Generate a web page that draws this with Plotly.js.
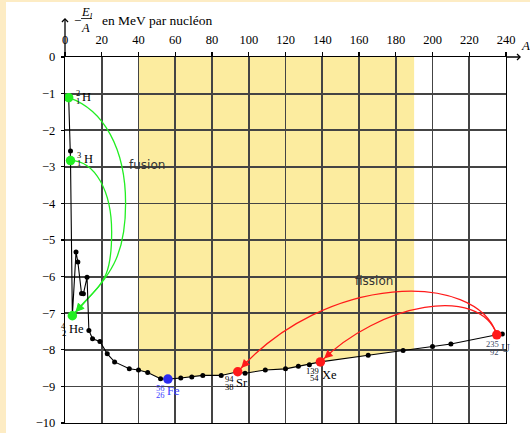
<!DOCTYPE html>
<html><head><meta charset="utf-8">
<script src="https://cdn.plot.ly/plotly-3.0.1.min.js"></script>
<style>
html,body{margin:0;padding:0;background:#fdecc4;width:530px;height:433px;overflow:hidden}
#chart{position:absolute;left:6px;top:2px;width:524px;height:431px;background:#fff}
</style></head><body><div id="chart"></div>
<script>
// ---- data ----
const massNumber = [2,3,3,4,6,7,9,10,12,13,15,19,23,27,35,40,45,52,56,63,69,75,85,94,98,109,120,127,133,139,165,184,200,210,235,238];
const bindingPerNucleon = [-1.11,-2.57,-2.83,-7.07,-5.33,-5.60,-6.46,-6.47,-6.02,-7.47,-7.70,-7.77,-8.11,-8.33,-8.52,-8.55,-8.62,-8.79,-8.80,-8.77,-8.74,-8.70,-8.70,-8.60,-8.64,-8.55,-8.52,-8.45,-8.41,-8.33,-8.15,-8.02,-7.91,-7.84,-7.59,-7.57];
const nuclideA = [2,3,4,56,94,139,235];
const nuclideZ = [1,1,2,26,38,54,92];
const nuclideSymbol = ['H','H','He','Fe','Sr','Xe','U'];
const nuclideE = [-1.11,-2.83,-7.07,-8.80,-8.60,-8.33,-7.59];
const xTicks = [0,20,40,60,80,100,120,140,160,180,200,220,240];
const yTicks = [0,-1,-2,-3,-4,-5,-6,-7,-8,-9,-10];
const bandRange = [40,190];
const fusionPairs = [[0,2],[1,2]];
const fissionPairs = [[6,4],[6,5]];

// ---- styles ----
const GREEN = '#22ee22', RED = '#ff1a1a', BLUE = '#2b2bf0';
const nuclideColor = [GREEN,GREEN,GREEN,BLUE,RED,RED,RED];
const labelColor = ['#000','#000','#000','#3d3dff','#000','#000','#3a4a66'];
// symbol left edge / centre offsets in px from the marker centre
const labelOffset = [[12.8,-0.9],[12.2,-1.7],[-4.6,13.5],[-1.9,12.3],[-2.7,11.2],[0.3,12.8],[3.2,13.3]];
// curve control points (geometry of the reaction arrows)
const fusionCtrl = [
  [[21.06,-1.437],[32.98,-2.50],[32.98,-4.0],[32.98,-5.64],[22.26,-6.06]],
  [[16.6,-2.83],[25.4,-3.69],[25.4,-4.78],[25.4,-6.28],[18.2,-6.18]]
];
const fissionCtrl = [
  [[224.1,-5.844],[141.5,-5.885]],
  [[225.9,-6.226],[171.4,-6.717]]
];
const SERIF = 'Liberation Serif, Times New Roman, serif';

function curveAt(a){
  for(let i=0;i<massNumber.length-1;i++){
    const a0=massNumber[i], a1=massNumber[i+1];
    if(a0<=a && a<=a1 && a1>a0){
      const t=(a-a0)/(a1-a0);
      return bindingPerNucleon[i]+t*(bindingPerNucleon[i+1]-bindingPerNucleon[i]);
    }
  }
  return bindingPerNucleon[bindingPerNucleon.length-1];
}
function bez(p0,p1,p2,p3,t){
  const u=1-t;
  return [u*u*u*p0[0]+3*u*u*t*p1[0]+3*u*t*t*p2[0]+t*t*t*p3[0],
          u*u*u*p0[1]+3*u*u*t*p1[1]+3*u*t*t*p2[1]+t*t*t*p3[1]];
}

const shapes = [];
const annotations = [];

// yellow band below the curve
{
  const pts = [[bandRange[0],0],[bandRange[0],curveAt(bandRange[0])]];
  massNumber.forEach((a,i)=>{ if(a>bandRange[0] && a<bandRange[1]) pts.push([a,bindingPerNucleon[i]]); });
  pts.push([bandRange[1],curveAt(bandRange[1])],[bandRange[1],0]);
  shapes.push({type:'path', xref:'x', yref:'y', layer:'below',
    path:'M'+pts.map(p=>p[0]+','+p[1]).join(' L')+' Z',
    fillcolor:'#fcec9f', line:{width:0}});
}

function reaction(pair, ctrl, color, tailT){
  const p0=[nuclideA[pair[0]],nuclideE[pair[0]]];
  const p3=[nuclideA[pair[1]],nuclideE[pair[1]]];
  let path='M'+p0.join(',');
  let lastSeg;
  if(ctrl.length===2){
    path+=' C'+ctrl[0].join(',')+' '+ctrl[1].join(',')+' '+p3.join(',');
    lastSeg=[p0,ctrl[0],ctrl[1],p3];
  } else {
    path+=' C'+ctrl[0].join(',')+' '+ctrl[1].join(',')+' '+ctrl[2].join(',');
    path+=' C'+ctrl[3].join(',')+' '+ctrl[4].join(',')+' '+p3.join(',');
    lastSeg=[ctrl[2],ctrl[3],ctrl[4],p3];
  }
  shapes.push({type:'path', xref:'x', yref:'y', layer:'between', path,
    line:{color, width:1.3}});
  const tail=bez(lastSeg[0],lastSeg[1],lastSeg[2],lastSeg[3],tailT);
  annotations.push({x:p3[0], y:p3[1], xref:'x', yref:'y', axref:'x', ayref:'y',
    ax:tail[0], ay:tail[1], text:'', showarrow:true, arrowhead:2, arrowsize:1.3,
    arrowwidth:1.3, arrowcolor:color, standoff:5});
}
reaction(fusionPairs[0], fusionCtrl[0], GREEN, 0.89);
reaction(fusionPairs[1], fusionCtrl[1], GREEN, 0.87);
reaction(fissionPairs[0], fissionCtrl[0], RED, 0.96);
reaction(fissionPairs[1], fissionCtrl[1], RED, 0.935);

// nuclide labels
nuclideA.forEach((a,i)=>{
  const [dx,dy]=labelOffset[i];
  const c=labelColor[i];
  annotations.push({x:a, y:nuclideE[i], xref:'x', yref:'y', showarrow:false,
    text:nuclideSymbol[i], xanchor:'left', yanchor:'middle', xshift:dx, yshift:-dy,
    borderpad:0, font:{family:SERIF, size:12.5, color:c}});
  annotations.push({x:a, y:nuclideE[i], xref:'x', yref:'y', showarrow:false,
    text:String(a), xanchor:'right', yanchor:'middle', xshift:dx-0.3, yshift:-(dy-3.6),
    borderpad:0, font:{family:SERIF, size:8.5, color:c}});
  annotations.push({x:a, y:nuclideE[i], xref:'x', yref:'y', showarrow:false,
    text:String(nuclideZ[i]), xanchor:'right', yanchor:'middle', xshift:dx-0.3, yshift:-(dy+3.8),
    borderpad:0, font:{family:SERIF, size:8.5, color:c}});
});

// fusion / fission words
annotations.push({x:44.5, y:-2.95, xref:'x', yref:'y', text:'fusion', showarrow:false,
  xanchor:'center', yanchor:'middle', font:{family:'DejaVu Sans', size:12, color:'#333'}});
annotations.push({x:168.3, y:-6.11, xref:'x', yref:'y', text:'fission', showarrow:false,
  xanchor:'center', yanchor:'middle', font:{family:'DejaVu Sans', size:12, color:'#333'}});

// axis arrows and titles
const PH = 366, PW = 441;
annotations.push({x:1+(521-506)/PW, y:0, xref:'paper', yref:'y', ax:-16, ay:0,
  text:'', showarrow:true, arrowhead:4, arrowsize:0.9, arrowwidth:1.3, arrowcolor:'#000'});
annotations.push({x:0, y:1+(57-18)/PH, xref:'x', yref:'paper', ax:0, ay:40,
  text:'', showarrow:true, arrowhead:4, arrowsize:0.9, arrowwidth:1.3, arrowcolor:'#000'});
annotations.push({x:1, y:1, xref:'paper', yref:'paper', xshift:19, yshift:12, showarrow:false,
  xanchor:'center', yanchor:'middle', borderpad:0,
  text:'<i>A</i>', font:{family:SERIF, size:13, color:'#000'}});
annotations.push({x:0, y:1, xref:'x', yref:'paper', xshift:12, yshift:37, showarrow:false,
  xanchor:'center', yanchor:'middle', borderpad:0,
  text:'−', font:{family:SERIF, size:13, color:'#000'}});
annotations.push({x:0, y:1, xref:'x', yref:'paper', xshift:21.5, yshift:44, showarrow:false,
  xanchor:'center', yanchor:'middle', borderpad:0,
  text:'<i>E<sub>l</sub></i>', font:{family:SERIF, size:12.5, color:'#000'}});
annotations.push({x:0, y:1, xref:'x', yref:'paper', xshift:20.5, yshift:29, showarrow:false,
  xanchor:'center', yanchor:'middle', borderpad:0,
  text:'<i>A</i>', font:{family:SERIF, size:12.5, color:'#000'}});
annotations.push({x:0, y:1, xref:'x', yref:'paper', xshift:36, yshift:37, showarrow:false,
  xanchor:'left', yanchor:'middle', borderpad:0,
  text:'en MeV par nucléon', font:{family:SERIF, size:13.5, color:'#000'}});
shapes.push({type:'line', xref:'paper', yref:'paper', x0:(81-65)/PW, x1:(92-65)/PW,
  y0:1+(57-18.5)/PH, y1:1+(57-18.5)/PH, line:{color:'#000', width:0.8}});

const traces = [
  {type:'scatter', mode:'lines+markers', x:massNumber, y:bindingPerNucleon,
   line:{color:'#000', width:1.1}, marker:{color:'#000', size:5}, hoverinfo:'skip'},
  {type:'scatter', mode:'markers', x:nuclideA, y:nuclideE,
   marker:{color:nuclideColor, size:9.5}, hoverinfo:'skip'}
];

const axisCommon = {showline:true, linecolor:'#000', linewidth:1.3, mirror:true,
  ticks:'outside', tickcolor:'#000', tickwidth:1.1, showgrid:true, gridcolor:'#444444',
  gridwidth:1.8, zeroline:false, automargin:false, fixedrange:true, ticklabelstandoff:3,
  tickfont:{family:SERIF, size:12.5, color:'#000'}};

const layout = {
  width:524, height:431, margin:{l:59, r:24, t:55, b:10},
  paper_bgcolor:'#fff', plot_bgcolor:'#fff', showlegend:false, hovermode:false,
  xaxis:Object.assign({}, axisCommon, {range:[0,240], side:'top', tickmode:'array',
    tickvals:xTicks, ticklen:4}),
  yaxis:Object.assign({}, axisCommon, {range:[-10,0], tickmode:'array', tickvals:yTicks,
    ticklen:3}),
  shapes, annotations
};
Plotly.newPlot('chart', traces, layout, {staticPlot:true, displayModeBar:false});
</script></body></html>
